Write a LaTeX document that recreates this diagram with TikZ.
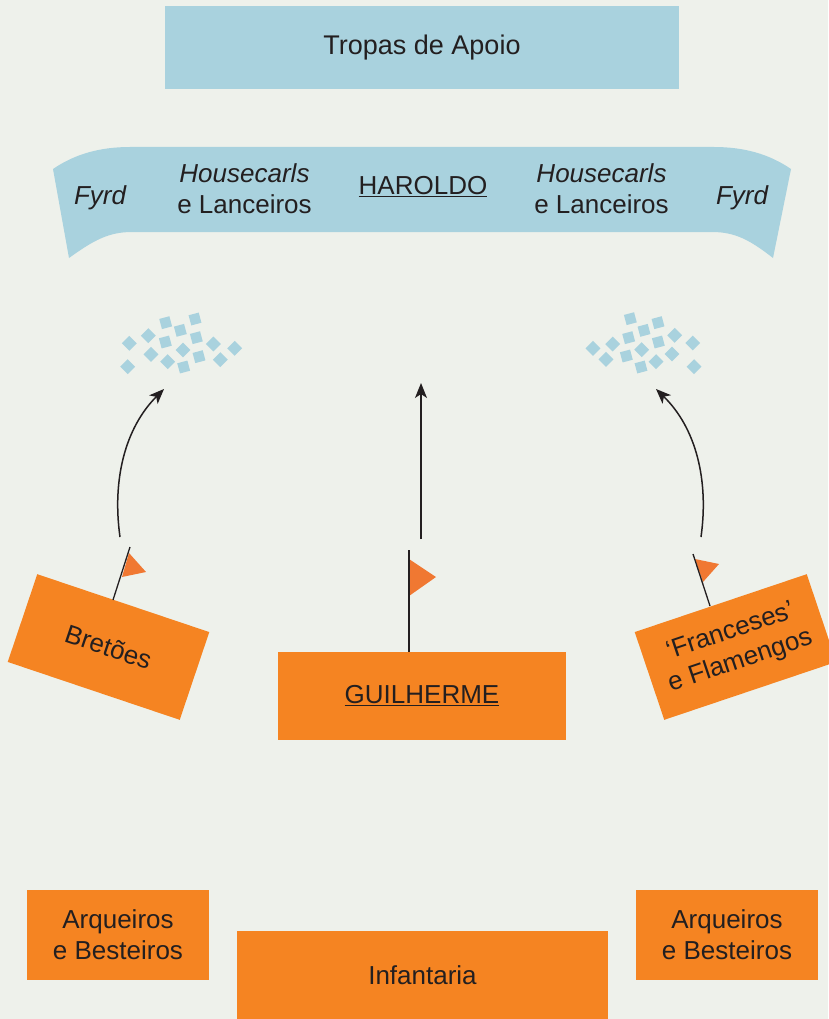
\documentclass[tikz,border=0pt]{standalone}
\usepackage{fontspec}
\setmainfont{Liberation Sans}
\usetikzlibrary{arrows.meta}
\definecolor{bgc}{HTML}{EEF1EB}
\definecolor{bluec}{HTML}{A9D2DE}
\definecolor{orangec}{HTML}{F58422}
\definecolor{flagc}{HTML}{F07832}
\definecolor{inkc}{HTML}{231F20}
\tikzset{
  box/.style={fill=orangec,inner sep=0pt,text=inkc,align=center,font=\fontsize{26}{31}\selectfont},
  bluebox/.style={fill=bluec,inner sep=0pt,text=inkc,align=center,font=\fontsize{27}{32}\selectfont},
  lbl/.style={inner sep=0pt,text=inkc,align=center,font=\fontsize{26}{31}\selectfont},
  sq/.style={fill=bluec,inner sep=0pt,minimum size=10.5pt},
  pole/.style={draw=inkc,line width=1.3pt},
  flagshape/.style={fill=flagc},
  arr/.style={draw=inkc,line width=1.5pt,-{Stealth[length=15pt,width=12pt,inset=4pt]}},
}
\begin{document}
\begin{tikzpicture}[x=1pt,y=-1pt]
\fill[bgc] (0,0) rectangle (828,1019);
\useasboundingbox (0,0) rectangle (828,1019);
% top box
\node[bluebox,minimum width=514pt,minimum height=83pt] (apoio) at (422,47.5) {Tropas de Apoio};
% banner
\fill[bluec] (53,169) .. controls (75,154) and (100,147) .. (130,147) -- (714,147)
  .. controls (744,147) and (769,154) .. (791,169) -- (773,258)
  .. controls (750,240) and (735,232) .. (712,232) -- (132,232)
  .. controls (109,232) and (94,240) .. (69,258) -- cycle;
\node[lbl] (fyrdl) at (100,198) {\itshape Fyrd};
\node[lbl] (hl) at (244.5,189) {{\itshape Housecarls}\\e Lanceiros};
\node[lbl] (haroldo) at (423,187) {\underline{HAROLDO}};
\node[lbl] (hr) at (601.5,189) {{\itshape Housecarls}\\e Lanceiros};
\node[lbl] (fyrdr) at (742,198) {\itshape Fyrd};
% squares left
\foreach \px/\py/\a [count=\i] in {88/130/45,145/107/45,197/68/15,241/91/15,285/57/15,196/126/15,289/113/15,340/132/45,404/145/45,153/163/45,249/150/45,297/170/15,361/179/45,83/200/45,203/185/45,251/201/15}
  \node[sq,rotate=\a] (sl\i) at ({100+\px/3},{300+\py/3}) {};
% squares right
\foreach \px/\py/\a [count=\i] in {69/145/45,128/132/45,181/56/15,222/91/15,264/68/15,176/113/15,265/126/15,314/106/45,368/129/45,108/178/45,215/149/45,169/168/15,306/162/45,258/185/45,213/201/15,372/200/45}
  \node[sq,rotate=\a] (sr\i) at ({570+\px/3},{300+\py/3}) {};
% orange boxes
\node[box,minimum width=288pt,minimum height=88pt] (guilherme) at (422,696) {\underline{GUILHERME}};
\node[box,rotate=-18.6,minimum width=181.5pt,minimum height=92.6pt] (bretoes) at (108.5,647) {Bretões};
\node[box,rotate=18.6,minimum width=181.5pt,minimum height=92.6pt] (franceses) at (735.5,647) {‘Franceses’\\e Flamengos};
\node[box,minimum width=182pt,minimum height=90pt] (arql) at (118,935) {Arqueiros\\e Besteiros};
\node[box,minimum width=182pt,minimum height=90pt] (arqr) at (727,935) {Arqueiros\\e Besteiros};
\node[box,minimum width=371pt,minimum height=88pt] (infantaria) at (422.5,975) {Infantaria};
% flags
\coordinate (pl0) at (113,600); \coordinate (pl1) at (130,547);
\coordinate (pc0) at (guilherme.north -| 409,0); \coordinate (pc1) at (409,550);
\coordinate (pr0) at (710,606); \coordinate (pr1) at (693,554);
\fill[flagshape] (129,553) -- (146,572) -- (122,577) -- cycle;
\fill[flagshape] (409,559) -- (436,577) -- (409,596) -- cycle;
\fill[flagshape] (695,559) -- (719,564) -- (703,582) -- cycle;
\draw[pole] (pl0) -- (pl1);
\draw[pole] (pc0) -- (pc1);
\draw[pole] (pr0) -- (pr1);
% arrows
\coordinate (al0) at (120,537); \coordinate (al1) at (164,389);
\coordinate (ac0) at (421,539); \coordinate (ac1) at (421,383);
\coordinate (ar0) at (701,537); \coordinate (ar1) at (656,389);
\draw[arr] (al0) .. controls (112,480) and (125,428) .. (al1);
\draw[arr] (ac0) -- (ac1);
\draw[arr] (ar0) .. controls (709,480) and (696,428) .. (ar1);
\end{tikzpicture}
\end{document}
